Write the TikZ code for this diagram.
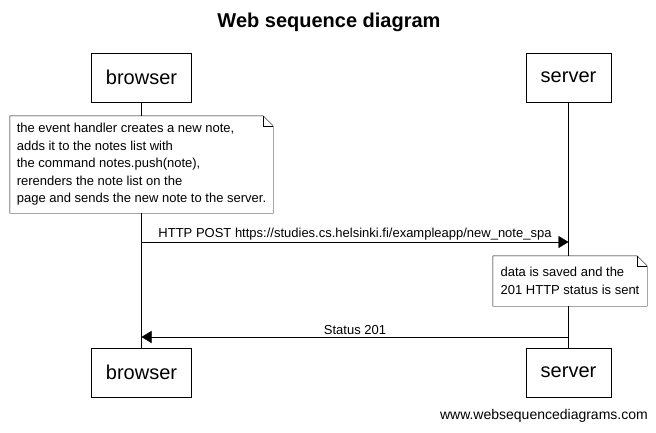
\documentclass[tikz,border=0pt]{standalone}
\usepackage{fontspec}
\setmainfont{Liberation Sans}
\usetikzlibrary{arrows.meta}
\begin{document}
\begin{tikzpicture}[x=1pt, y=-1pt,
        actor/.style={draw, fill=white, font=\fontsize{20}{24}\selectfont, inner xsep=14.5pt, minimum height=49pt},
        notebox/.style={fill=white, align=left, font=\fontsize{13}{17.5}\selectfont, inner sep=0pt},
        msg/.style={-{Triangle[length=10pt, width=12pt]}},
        lbl/.style={font=\fontsize{13}{16}\selectfont, above, inner sep=2pt}]
        \useasboundingbox (0,0) rectangle (656,432);
        \node[font=\bfseries\fontsize{20}{24}\selectfont] at (329,22) (title) {Web sequence diagram};
        \node[actor] at (141.5,77.5) (browserTop) {browser};
        \node[actor] at (568.5,77.5) (serverTop) {server};
        \node[actor] at (141.5,372.5) (browserBot) {browser};
        \node[actor] at (568.5,372.5) (serverBot) {server};
        % lifelines
        \draw (browserTop) -- (browserBot);
        \draw (serverTop) -- (serverBot);
        % notes
        \node[notebox, minimum width=263pt, minimum height=97pt] at (141.5,164.5) (eventNote) {the event handler creates a new note,\\ adds it to the notes list with\\ the command notes.push(note),\\ rerenders the note list on the\\ page and sends the new note to the server.};
        \draw (eventNote.north west) -- ([xshift=-10pt]eventNote.north east) -- ([yshift=-10pt]eventNote.north east) -- (eventNote.south east) -- (eventNote.south west) -- cycle;
        \draw ([xshift=-10pt]eventNote.north east) -- ([xshift=-10pt, yshift=-10pt]eventNote.north east) -- ([yshift=-10pt]eventNote.north east);
        \node[notebox, minimum width=154pt, minimum height=50pt] at (570,281) (saveNote) {data is saved and the\\ 201 HTTP status is sent};
        \draw (saveNote.north west) -- ([xshift=-10pt]saveNote.north east) -- ([yshift=-10pt]saveNote.north east) -- (saveNote.south east) -- (saveNote.south west) -- cycle;
        \draw ([xshift=-10pt]saveNote.north east) -- ([xshift=-10pt, yshift=-10pt]saveNote.north east) -- ([yshift=-10pt]saveNote.north east);
        % messages
        \coordinate (postFrom) at (141.5,242);
        \coordinate (postTo) at (568.5,242);
        \coordinate (statusFrom) at (568.5,337);
        \coordinate (statusTo) at (141.5,337);
        \draw[msg] (postFrom) -- node[lbl] {HTTP POST https://studies.cs.helsinki.fi/exampleapp/new\_note\_spa} (postTo);
        \draw[msg] (statusFrom) -- node[lbl] {Status 201} (statusTo);
        \node[font=\fontsize{14}{17}\selectfont, anchor=east, inner sep=0pt] at (648,416) (footer) {www.websequencediagrams.com};
\end{tikzpicture}
\end{document}
